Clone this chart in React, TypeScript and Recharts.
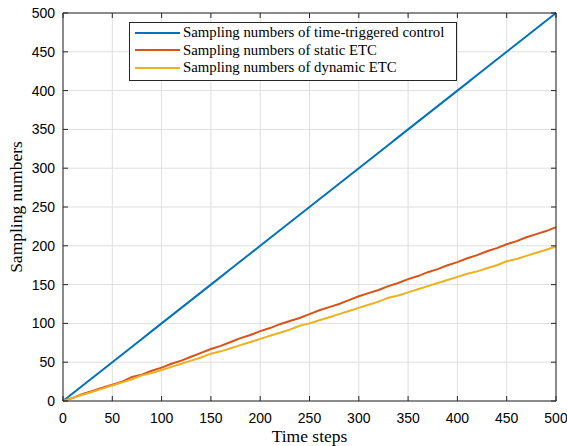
import React from 'react';
import { LineChart, Line, XAxis, YAxis, CartesianGrid, Legend } from 'recharts';

const steps = [0, 10, 20, 30, 40, 50, 60, 70, 80, 90, 100, 110, 120, 130, 140, 150, 160, 170, 180, 190, 200, 210, 220, 230, 240, 250, 260, 270, 280, 290, 300, 310, 320, 330, 340, 350, 360, 370, 380, 390, 400, 410, 420, 430, 440, 450, 460, 470, 480, 490, 500];
const timeTriggered = [0, 10, 20, 30, 40, 50, 60, 70, 80, 90, 100, 110, 120, 130, 140, 150, 160, 170, 180, 190, 200, 210, 220, 230, 240, 250, 260, 270, 280, 290, 300, 310, 320, 330, 340, 350, 360, 370, 380, 390, 400, 410, 420, 430, 440, 450, 460, 470, 480, 490, 500];
const staticETC = [0, 4, 9, 13, 17, 21, 25, 31, 34, 39, 43, 48, 52, 57, 62, 67, 71, 76, 81, 85, 90, 94, 99, 103, 107, 112, 117, 121, 125, 130, 135, 139, 143, 148, 152, 157, 161, 166, 170, 175, 179, 184, 188, 193, 197, 202, 206, 211, 215, 219, 224];
const dynamicETC = [0, 4, 8, 12, 16, 20, 24, 28, 33, 36, 40, 44, 48, 52, 56, 61, 64, 68, 72, 76, 80, 84, 88, 92, 97, 100, 104, 108, 112, 116, 120, 124, 128, 133, 136, 140, 144, 148, 152, 156, 160, 164, 167, 171, 175, 180, 183, 187, 191, 195, 199];
const xTicks = [0, 50, 100, 150, 200, 250, 300, 350, 400, 450, 500];
const yTicks = [0, 50, 100, 150, 200, 250, 300, 350, 400, 450, 500];
const seriesKeys = ['tt', 'st', 'dy'];
const seriesNames = [
  'Sampling numbers of time-triggered control',
  'Sampling numbers of static ETC',
  'Sampling numbers of dynamic ETC',
];
const seriesColors = ['#0072BD', '#D95319', '#EDB120'];

const data = steps.map((s, i) => ({ step: s, tt: timeTriggered[i], st: staticETC[i], dy: dynamicETC[i] }));

const AXIS = '#262626';
const SERIF = '"Liberation Serif", "Times New Roman", serif';
const SANS = '"Liberation Sans", Arial, sans-serif';

const EmptyTick = () => <g />;

const LegendBox = () => (
  <div
    style={{
      border: `1px solid ${AXIS}`,
      background: '#fff',
      padding: '1px 12px 3px 5px',
      fontFamily: SERIF,
      fontSize: 14.8,
      color: '#000',
      lineHeight: '17.5px',
    }}
  >
    {seriesNames.map((n, i) => (
      <div key={n} style={{ display: 'flex', alignItems: 'center', whiteSpace: 'nowrap' }}>
        <svg width={48} height={10} style={{ flex: 'none' }}>
          <line x1={0} x2={45} y1={5} y2={5} stroke={seriesColors[i]} strokeWidth={2} />
        </svg>
        <span>{n}</span>
      </div>
    ))}
  </div>
);

const YLabel = (props: any) => {
  const vb = props.viewBox || {};
  const cx = vb.x + 22;
  const cy = vb.y + vb.height / 2;
  return (
    <text
      x={cx}
      y={cy}
      transform={`rotate(-90, ${cx}, ${cy})`}
      textAnchor="middle"
      fontFamily={SERIF}
      fontSize={17.5}
      fill="#000"
    >
      Sampling numbers
    </text>
  );
};

const XLabel = (props: any) => {
  const vb = props.viewBox || {};
  const cx = vb.x + vb.width / 2;
  const cy = vb.y + 41;
  return (
    <text x={cx} y={cy} textAnchor="middle" fontFamily={SERIF} fontSize={17.5} fill="#000">
      Time steps
    </text>
  );
};

export default function App() {
  return (
    <div style={{ position: 'absolute', left: 0, top: 0, background: '#fff' }}>
      <LineChart width={567} height={446} data={data} margin={{ top: 13, right: 11, bottom: 0, left: 0 }}>
        <CartesianGrid xAxisId="x" yAxisId="y" stroke="#dfdfdf" strokeWidth={1} />
        <XAxis
          xAxisId="x"
          dataKey="step"
          type="number"
          domain={[0, 500]}
          ticks={xTicks}
          height={45}
          tickLine={false}
          tickSize={4}
          tickMargin={8}
          axisLine={{ stroke: AXIS, strokeWidth: 1 }}
          tick={{ fill: '#000', fontFamily: SANS, fontSize: 14 }}
          label={<XLabel />}
        />
        <XAxis
          xAxisId="xb"
          dataKey="step"
          type="number"
          domain={[0, 500]}
          ticks={xTicks}
          mirror
          tick={<EmptyTick />}
          tickSize={5}
          tickLine={{ stroke: AXIS, strokeWidth: 1 }}
          axisLine={false}
        />
        <XAxis
          xAxisId="xt"
          orientation="top"
          dataKey="step"
          type="number"
          domain={[0, 500]}
          ticks={xTicks}
          mirror
          tick={<EmptyTick />}
          tickSize={5}
          tickLine={{ stroke: AXIS, strokeWidth: 1 }}
          axisLine={{ stroke: AXIS, strokeWidth: 1 }}
        />
        <YAxis
          yAxisId="y"
          type="number"
          domain={[0, 500]}
          ticks={yTicks}
          width={63}
          tickLine={false}
          tickSize={4}
          tickMargin={4}
          axisLine={{ stroke: AXIS, strokeWidth: 1 }}
          tick={{ fill: '#000', fontFamily: SANS, fontSize: 14 }}
          label={<YLabel />}
        />
        <YAxis
          yAxisId="yl"
          dataKey="tt"
          type="number"
          domain={[0, 500]}
          ticks={yTicks}
          mirror
          tick={<EmptyTick />}
          tickSize={5}
          tickLine={{ stroke: AXIS, strokeWidth: 1 }}
          axisLine={false}
        />
        <YAxis
          yAxisId="yr"
          dataKey="tt"
          orientation="right"
          type="number"
          domain={[0, 500]}
          ticks={yTicks}
          mirror
          tick={<EmptyTick />}
          tickSize={5}
          tickLine={{ stroke: AXIS, strokeWidth: 1 }}
          axisLine={{ stroke: AXIS, strokeWidth: 1 }}
        />
        <Legend
          layout="vertical"
          align="center"
          verticalAlign="middle"
          content={<LegendBox />}
          wrapperStyle={{ left: 129, top: 22, width: 'auto', height: 'auto' }}
        />
        {seriesKeys.map((k, i) => (
          <Line
            key={k}
            xAxisId="x"
            yAxisId="y"
            dataKey={k}
            name={seriesNames[i]}
            stroke={seriesColors[i]}
            strokeWidth={2}
            dot={false}
            activeDot={false}
            isAnimationActive={false}
            type="linear"
          />
        ))}
      </LineChart>
    </div>
  );
}
